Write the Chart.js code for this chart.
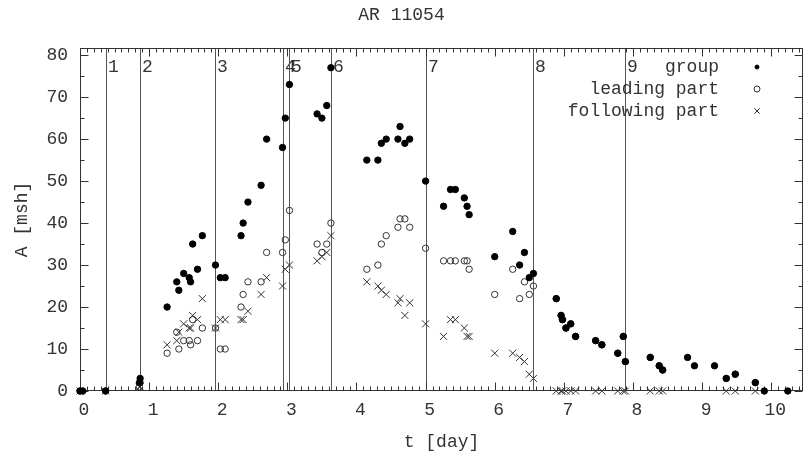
<!DOCTYPE html>
<html>
<head>
<meta charset="utf-8">
<title>AR 11054</title>
<script src="https://cdn.jsdelivr.net/npm/chart.js@4.4.0/dist/chart.umd.min.js"></script>
<style>
  body { margin: 0; background: #fff; }
</style>
</head>
<body>
<canvas id="areaChart" width="809" height="459"></canvas>
<script>
// observation times [day] and areas [msh]; null = no value for that part
const days = [0.00, 0.04, 0.37, 0.86, 0.87, 1.26, 1.40, 1.43, 1.50, 1.58, 1.60, 1.63, 1.70, 1.77,
  1.96, 2.03, 2.10, 2.33, 2.36, 2.43, 2.62, 2.70, 2.93, 2.97, 3.03, 3.43, 3.50, 3.57, 3.63,
  4.15, 4.31, 4.36, 4.43, 4.60, 4.63, 4.70, 4.77, 5.00, 5.26, 5.36, 5.43, 5.56, 5.60, 5.63,
  6.00, 6.26, 6.36, 6.43, 6.50, 6.56, 6.89, 6.96, 6.98, 7.03, 7.10, 7.17, 7.46, 7.55, 7.78,
  7.86, 7.89, 8.25, 8.38, 8.43, 8.79, 8.89, 9.18, 9.35, 9.48, 9.77, 9.90, 10.24];
const groupArea = [0, 0, 0, 2, 3, 20, 26, 24, 28, 27, 26, 35, 29, 37,
  30, 27, 27, 37, 40, 45, 49, 60, 58, 65, 73, 66, 65, 68, 77,
  55, 55, 59, 60, 60, 63, 59, 60, 50, 44, 48, 48, 46, 44, 42,
  32, 38, 30, 33, 27, 28, 22, 18, 17, 15, 16, 13, 12, 11, 9,
  13, 7, 8, 6, 5, 8, 6, 6, 3, 4, 2, 0, 0];
const leadingArea = [0, null, 0, 1, 2, 9, 14, 10, 12, 12, 11, 17, 12, 15,
  15, 10, 10, 20, 23, 26, 26, 33, 33, 36, 43, 35, 33, 35, 40,
  29, 30, 35, 37, 39, 41, 41, 39, 34, 31, 31, 31, 31, 31, 29,
  23, 29, 22, 26, 23, 25, 22, 18, 17, 15, 16, 13, 12, 11, 9,
  13, 7, 8, 6, 5, null, null, null, 3, 4, 2, null, null];
const followingArea = [0, null, 0, 1, 1, 11, 12, 14, 16, 15, 15, 18, 17, 22,
  15, 17, 17, 17, 17, 19, 23, 27, 25, 29, 30, 31, 32, 33, 37,
  26, 25, 24, 23, 21, 22, 18, 21, 16, 13, 17, 17, 15, 13, 13,
  9, 9, 8, 7, 4, 3, 0, 0, 0, 0, 0, 0, 0, 0, 0,
  0, 0, 0, 0, 0, null, null, null, 0, 0, 0, null, null];

// marked moments (vertical lines)
const eventDays = [0.37, 0.87, 1.96, 2.93, 3.03, 3.63, 5.00, 6.56, 7.89];
const eventLabels = ['1', '2', '3', '4', '5', '6', '7', '8', '9'];

const xTicks = [0, 1, 2, 3, 4, 5, 6, 7, 8, 9, 10];
const yTicks = [0, 10, 20, 30, 40, 50, 60, 70, 80];

const FONT_FAMILY = "'Liberation Mono', 'DejaVu Sans Mono', monospace";
const TEXT = '#333';

function points(values) {
  return days.map((d, i) => ({ x: d, y: values[i] })).filter(p => p.y !== null);
}

const frame = {
  id: 'frame',
  beforeDatasetsDraw(chart) {
    const { ctx, chartArea: a, scales: { x, y } } = chart;
    ctx.save();
    ctx.lineWidth = 1;

    // event lines and their numbers
    ctx.strokeStyle = '#555';
    ctx.fillStyle = TEXT;
    ctx.font = '18px ' + FONT_FAMILY;
    ctx.textAlign = 'left';
    ctx.textBaseline = 'middle';
    eventDays.forEach((d, i) => {
      const px = Math.round(x.getPixelForValue(d)) + 0.5;
      ctx.beginPath();
      ctx.moveTo(px, a.top);
      ctx.lineTo(px, a.bottom);
      ctx.stroke();
      ctx.fillText(eventLabels[i], px + 1.5, a.top + 19);
    });

    // frame
    ctx.strokeStyle = '#333';
    const L = Math.round(a.left) + 0.5, R = Math.round(a.right) - 0.5;
    const T = Math.round(a.top) + 0.5, B = Math.round(a.bottom) - 0.5;
    ctx.strokeRect(L, T, R - L, B - T);

    // inward ticks, mirrored
    ctx.beginPath();
    for (let k = 0; k * 0.1 <= x.max; k++) {
      const v = k * 0.1;
      const len = k % 10 === 0 ? 8 : 4;
      const px = Math.round(x.getPixelForValue(v)) + 0.5;
      ctx.moveTo(px, B); ctx.lineTo(px, B - len);
      ctx.moveTo(px, T); ctx.lineTo(px, T + len);
    }
    for (let v = 0; v <= y.max; v += 5) {
      const len = v % 10 === 0 ? 8 : 4;
      const py = Math.round(y.getPixelForValue(v)) + 0.5;
      ctx.moveTo(L, py); ctx.lineTo(L + len, py);
      ctx.moveTo(R, py); ctx.lineTo(R - len, py);
    }
    ctx.stroke();
    ctx.restore();
  },
  afterDraw(chart) {
    // legend, gnuplot style: text right aligned, symbol to the right
    const { ctx } = chart;
    const sizes = [2, 3, 3.8];
    ctx.save();
    ctx.font = '18px ' + FONT_FAMILY;
    ctx.textAlign = 'right';
    ctx.textBaseline = 'middle';
    chart.data.datasets.forEach((ds, i) => {
      const yy = 67 + i * 22;
      ctx.fillStyle = TEXT;
      ctx.fillText(ds.label, 719, yy);
      ctx.strokeStyle = ds.borderColor;
      ctx.fillStyle = ds.backgroundColor;
      ctx.lineWidth = 1;
      Chart.helpers.drawPoint(ctx, {
        pointStyle: ds.pointStyle, radius: sizes[i], borderWidth: 1, rotation: 0
      }, 757, yy);
    });
    ctx.restore();
  }
};

new Chart(document.getElementById('areaChart'), {
  type: 'scatter',
  data: {
    datasets: [{
      label: 'group',
      data: points(groupArea),
      pointStyle: 'circle',
      pointRadius: 3.2,
      borderWidth: 1,
      borderColor: '#000',
      backgroundColor: '#000',
      clip: false
    }, {
      label: 'leading part',
      data: points(leadingArea),
      pointStyle: 'circle',
      pointRadius: 3.2,
      borderWidth: 1,
      borderColor: '#333',
      backgroundColor: 'rgba(0,0,0,0)',
      clip: false
    }, {
      label: 'following part',
      data: points(followingArea),
      pointStyle: 'crossRot',
      pointRadius: 5,
      borderWidth: 1,
      borderColor: '#333',
      backgroundColor: 'rgba(0,0,0,0)',
      clip: false
    }]
  },
  options: {
    responsive: false,
    animation: false,
    layout: { padding: { left: 0, right: 6, top: 0, bottom: 0 } },
    plugins: {
      legend: { display: false },
      tooltip: { enabled: false },
      title: {
        display: true,
        text: 'AR 11054',
        color: TEXT,
        font: { family: FONT_FAMILY, size: 18, weight: 'normal' },
        padding: { top: 4, bottom: 22.4 }
      }
    },
    scales: {
      x: {
        type: 'linear',
        min: 0,
        max: 10.46,
        grid: { display: false, drawTicks: false },
        border: { display: false },
        afterBuildTicks: s => { s.ticks = xTicks.map(v => ({ value: v })); },
        afterFit: s => { s.height = 68; },
        ticks: {
          color: TEXT,
          padding: 8,
          labelOffset: 4,
          maxRotation: 0,
          font: { family: FONT_FAMILY, size: 18 }
        },
        title: {
          display: true,
          text: 't [day]',
          color: TEXT,
          font: { family: FONT_FAMILY, size: 18 },
          padding: { top: 0, bottom: 6 }
        }
      },
      y: {
        min: 0,
        max: 81.7,
        grid: { display: false, drawTicks: false },
        border: { display: false },
        afterBuildTicks: s => { s.ticks = yTicks.map(v => ({ value: v })); },
        afterFit: s => { s.width = 80; },
        ticks: {
          color: TEXT,
          padding: 12,
          font: { family: FONT_FAMILY, size: 18 }
        },
        title: {
          display: true,
          text: 'A [msh]',
          color: TEXT,
          font: { family: FONT_FAMILY, size: 18 },
          padding: { top: 11, bottom: 0 }
        }
      }
    }
  },
  plugins: [frame]
});
</script>
</body>
</html>
